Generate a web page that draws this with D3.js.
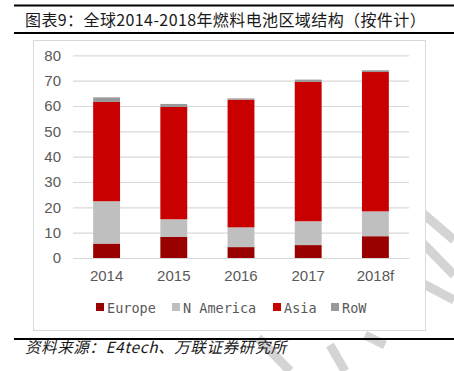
<!DOCTYPE html>
<html>
<head>
<meta charset="utf-8">
<script src="https://cdn.jsdelivr.net/npm/d3@7"></script>
<style>
  body { margin: 0; background: #fff; }
  svg { display: block; }
</style>
</head>
<body>
<svg width="454" height="371"></svg>
<script>
const years = ["2014", "2015", "2016", "2017", "2018f"];
const europe = [5.7, 8.3, 4.3, 5.1, 8.6];
const nAmerica = [16.7, 7.0, 7.8, 9.4, 9.8];
const asia = [39.2, 44.3, 50.4, 55.0, 55.0];
const row = [1.8, 1.2, 0.5, 0.9, 0.7];
const seriesNames = ["Europe", "N America", "Asia", "RoW"];
const yTicks = [0, 10, 20, 30, 40, 50, 60, 70, 80];

const colors = ["#990000", "#bfbfbf", "#c80000", "#999999"];

const svg = d3.select("svg");

// watermark strokes (light gray)
const wm = svg.append("g").attr("fill", "none").attr("stroke", "#d4d4d4").attr("stroke-width", 9);
wm.append("path").attr("d", "M372,170 L454,240");
wm.append("path").attr("d", "M395,215 L454,275");
wm.append("path").attr("d", "M420,282 L454,300");
wm.append("path").attr("d", "M258,338 L290,371");
wm.append("path").attr("d", "M330,345 L345,371");
wm.append("path").attr("d", "M365,335 L385,345");

// chart box
svg.append("rect")
  .attr("x", 33.5).attr("y", 40.5)
  .attr("width", 392).attr("height", 290)
  .attr("fill", "#fff")
  .attr("stroke", "#d9d9d9");

// title lines
svg.append("line").attr("x1", 14).attr("x2", 454).attr("y1", 5.5).attr("y2", 5.5)
  .attr("stroke", "#000").attr("stroke-width", 2);
svg.append("line").attr("x1", 14).attr("x2", 454).attr("y1", 33).attr("y2", 33)
  .attr("stroke", "#000").attr("stroke-width", 2);
svg.append("line").attr("x1", 14).attr("x2", 454).attr("y1", 339).attr("y2", 339)
  .attr("stroke", "#000").attr("stroke-width", 2);

svg.append("text")
  .attr("x", 25).attr("y", 26)
  .attr("font-family", "Noto Sans CJK SC")
  .attr("font-size", 16)
  .attr("font-weight", 400)
  .attr("letter-spacing", 0.4)
  .attr("fill", "#1a1a1a")
  .text("图表9：全球2014-2018年燃料电池区域结构（按件计）");

svg.append("text")
  .attr("x", 25).attr("y", 353)
  .attr("font-family", "Noto Sans CJK SC")
  .attr("font-size", 15.5)
  .attr("letter-spacing", 0.6)
  .attr("transform", "skewX(-14) translate(88,0)")
  .attr("fill", "#1a1a1a")
  .text("资料来源：E4tech、万联证券研究所");

// scales
const x = d3.scaleBand().domain(years).range([73, 409]).paddingInner(0.6).paddingOuter(0.3);
const y = d3.scaleLinear().domain([0, 80]).range([258, 55.3]);

// gridlines
const yAxis = d3.axisLeft(y).tickValues(yTicks).tickSize(-(409 - 73)).tickPadding(12);
const yAxisG = svg.append("g").attr("transform", "translate(73,0)").call(yAxis);
yAxisG.select(".domain").remove();
yAxisG.selectAll(".tick line").attr("stroke", "#d9d9d9").attr("stroke-width", 1.2);
yAxisG.selectAll(".tick text")
  .attr("font-family", "Liberation Sans, Arial")
  .attr("font-size", 15)
  .attr("fill", "#595959");

// stack
const table = years.map((yr, i) => ({
  year: yr, Europe: europe[i], "N America": nAmerica[i], Asia: asia[i], RoW: row[i]
}));
const stacked = d3.stack().keys(seriesNames)(table);

svg.append("g").selectAll("g")
  .data(stacked)
  .join("g")
  .attr("fill", (d, i) => colors[i])
  .selectAll("rect")
  .data(d => d)
  .join("rect")
  .attr("x", d => x(d.data.year))
  .attr("width", x.bandwidth())
  .attr("y", d => y(d[1]))
  .attr("height", d => y(d[0]) - y(d[1]));

// x axis
const xAxis = d3.axisBottom(x).tickSize(0).tickPadding(12);
const xAxisG = svg.append("g").attr("transform", "translate(0,258)").call(xAxis);
xAxisG.select(".domain").attr("stroke", "#d9d9d9").attr("stroke-width", 1.2);
xAxisG.selectAll(".tick text")
  .attr("font-family", "Liberation Sans, Arial")
  .attr("font-size", 15)
  .attr("fill", "#595959");

// legend
const legendX = [96, 172, 273, 331];
const legend = svg.append("g");
seriesNames.forEach((name, i) => {
  legend.append("rect")
    .attr("x", legendX[i]).attr("y", 303)
    .attr("width", 8).attr("height", 8)
    .attr("fill", colors[i]);
  legend.append("text")
    .attr("x", legendX[i] + 11).attr("y", 313)
    .attr("font-family", "DejaVu Sans Mono")
    .attr("font-size", 13.5)
    .attr("fill", "#595959")
    .text(name);
});
</script>
</body>
</html>
